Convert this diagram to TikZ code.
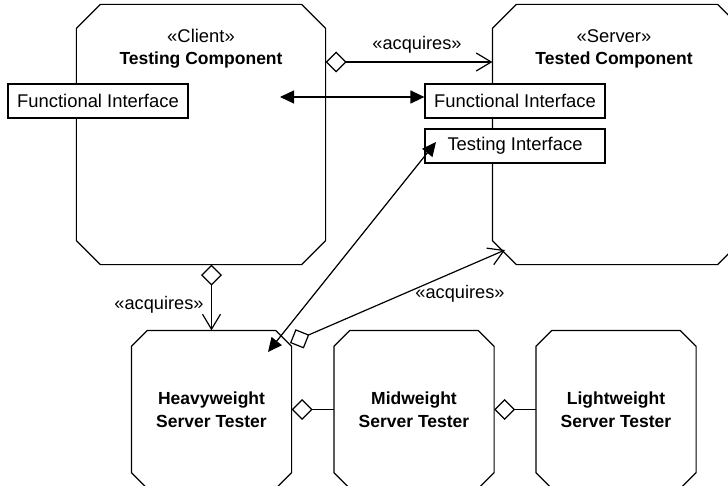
\documentclass[tikz,border=0pt]{standalone}
\usepackage{fontspec}
\setmainfont{Liberation Sans}
\usetikzlibrary{arrows.meta}
\newcommand{\octo}[2]{\draw ([xshift=#2]#1.north west) -- ([xshift=-#2]#1.north east) -- ([yshift=-#2]#1.north east) -- ([yshift=#2]#1.south east) -- ([xshift=-#2]#1.south east) -- ([xshift=#2]#1.south west) -- ([yshift=#2]#1.south west) -- ([yshift=-#2]#1.north west) -- cycle;}
\begin{document}
\begin{tikzpicture}[x=1bp,y=-1bp,
  line width=1.2bp,
  comp/.style={rectangle, inner sep=0pt, minimum width=248bp, minimum height=259bp},
  tester/.style={rectangle, inner sep=0pt, minimum width=159bp, minimum height=157bp, align=center, font=\fontsize{17.5bp}{23bp}\selectfont\bfseries},
  iface/.style={draw, fill=white, minimum width=180bp, minimum height=34bp, inner sep=0pt, font=\fontsize{18.4bp}{22bp}\selectfont},
  title/.style={align=center, font=\fontsize{18.4bp}{22bp}\selectfont, inner sep=0pt},
  lbl/.style={font=\fontsize{18.2bp}{22bp}\selectfont, inner sep=0pt},
  aggr/.style={{Diamond[open,length=21bp,width=21bp]}-{Straight Barb[length=15bp,width=18bp]}},
  aggronly/.style={{Diamond[open,length=21bp,width=21bp]}-},
  dbl/.style={{Triangle[length=14bp,width=13bp]}-{Triangle[length=14bp,width=13bp]}}
]
\clip (0,0) rectangle (728,486);
% components
\node[comp] (client) at (201,134.5) {};
\node[comp] (server) at (617,134.5) {};
\octo{client}{24bp}
\octo{server}{24bp}
\node[title] (clientt) at (201,49) {«Client»\\\fontsize{17.5bp}{22bp}\selectfont\bfseries Testing Component};
\node[title] (servert) at (614,49) {«Server»\\\fontsize{17.5bp}{22bp}\selectfont\bfseries Tested Component};
% testers
\node[tester] (heavy) at (211.5,409.5) {Heavyweight\\Server Tester};
\node[tester] (mid) at (414,409.5) {Midweight\\Server Tester};
\node[tester] (light) at (616,409.5) {Lightweight\\Server Tester};
\octo{heavy}{16bp}
\octo{mid}{16bp}
\octo{light}{16bp}
% interfaces
\node[iface] (fil) at (98,101) {Functional Interface};
\node[iface] (fir) at (515,101) {Functional Interface};
\node[iface] (ti) at (515,146) {Testing Interface};
% connectors
\coordinate (a1) at (0,62);
\draw[aggr] (client.east |- a1) -- (server.west |- a1);
\node[lbl] (l1) at (417,45) {«acquires»};
\coordinate (fa) at (280,97);
\draw[dbl] (fa) -- (fir.west |- fa);
\draw[aggr] (heavy.north |- client.south) -- (heavy.north);
\node[lbl] (l2) at (159,305) {«acquires»};
\coordinate (hs) at (290,343);
\coordinate (se) at (505,250);
\draw[aggr] (hs) -- (se);
\node[lbl] (l3) at (460,294) {«acquires»};
\coordinate (h1) at (268,352);
\coordinate (t1) at (436,142);
\draw[dbl] (h1) -- (t1);
\draw[aggronly] (heavy.east) -- (mid.west);
\draw[aggronly] (mid.east) -- (light.west);
\end{tikzpicture}
\end{document}
